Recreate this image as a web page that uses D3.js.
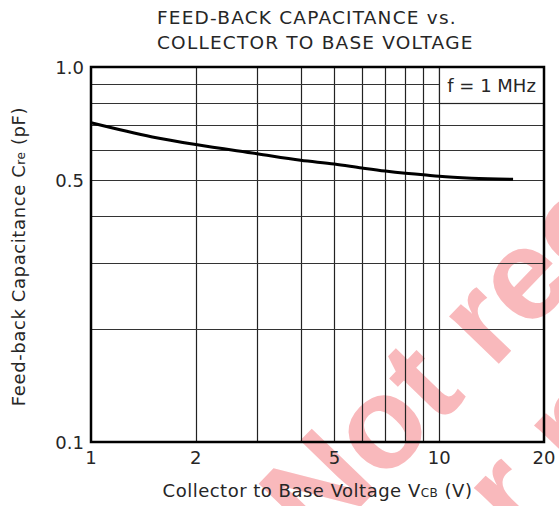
<!DOCTYPE html>
<html>
<head>
<meta charset="utf-8">
<title>Feed-back capacitance vs collector to base voltage</title>
<script src="https://d3js.org/d3.v7.min.js"></script>
<style>
  body { margin: 0; background: #fff; }
  text { font-family: "DejaVu Sans", sans-serif; fill: #262626; }
  .wm { font-family: "Liberation Sans", Arial, sans-serif; font-weight: bold; font-size: 130px; fill: #f9b9bc; }
</style>
</head>
<body>
<script>
// curve
var vcb = [1, 1.5, 2, 3, 4, 5, 6, 7, 8, 9, 10, 12.4, 16.3];
var cre = [0.71, 0.651, 0.621, 0.587, 0.564, 0.551, 0.538, 0.528, 0.521, 0.516, 0.511, 0.505, 0.502];

var xGrid = [2, 3, 4, 5, 6, 7, 8, 9, 10];
var yGrid = [0.2, 0.3, 0.4, 0.5, 0.6, 0.7, 0.8, 0.9];
var xTicks = [1, 2, 5, 10, 20];
var yTicks = [0.1, 0.5, 1.0];

var width = 559, height = 506;
var pl = 91, pr = 544, pt = 67, pb = 442;

var svg = d3.select("body").append("svg")
  .attr("width", width)
  .attr("height", height);

var x = d3.scaleLog().domain([1, 20]).range([pl, pr]);
var y = d3.scaleLog().domain([0.1, 1]).range([pb, pt]);

// watermark behind the grid
svg.append("text").attr("class", "wm")
  .attr("transform", "translate(317,552) rotate(-46)")
  .text("Not recommended");
svg.append("text").attr("class", "wm")
  .attr("transform", "translate(432,630) rotate(-46)")
  .text("for new designs");

// grid
svg.append("g").selectAll("line")
  .data(xGrid).enter().append("line")
  .attr("x1", function(d) { return Math.round(x(d)) + 0.5; })
  .attr("x2", function(d) { return Math.round(x(d)) + 0.5; })
  .attr("y1", pt).attr("y2", pb)
  .attr("stroke", "#222").attr("stroke-width", 1.2);

svg.append("g").selectAll("line")
  .data(yGrid).enter().append("line")
  .attr("x1", pl).attr("x2", pr)
  .attr("y1", function(d) { return Math.round(y(d)) + 0.5; })
  .attr("y2", function(d) { return Math.round(y(d)) + 0.5; })
  .attr("stroke", "#333").attr("stroke-width", 1.2);

// legend box in the top right corner
svg.append("rect")
  .attr("x", Math.round(x(10)) + 0.5).attr("y", pt)
  .attr("width", pr - Math.round(x(10)) - 0.5).attr("height", Math.round(y(0.8)) + 0.5 - pt)
  .attr("fill", "#fff").attr("stroke", "#222").attr("stroke-width", 1.2);
svg.append("text")
  .attr("x", (x(10) + pr) / 2).attr("y", (pt + y(0.8)) / 2 + 7)
  .attr("text-anchor", "middle")
  .style("font-size", "18px")
  .text("f = 1 MHz");

// frame
svg.append("rect")
  .attr("x", pl).attr("y", pt)
  .attr("width", pr - pl).attr("height", pb - pt)
  .attr("fill", "none").attr("stroke", "#000").attr("stroke-width", 2.5);

// curve
var line = d3.line()
  .x(function(d, i) { return x(vcb[i]); })
  .y(function(d) { return y(d); })
  .curve(d3.curveMonotoneX);

svg.append("path")
  .datum(cre)
  .attr("d", line)
  .attr("fill", "none")
  .attr("stroke", "#000")
  .attr("stroke-width", 3);

// tick labels
svg.append("g").selectAll("text")
  .data(xTicks).enter().append("text")
  .attr("x", function(d) { return x(d); })
  .attr("y", pb + 22)
  .attr("text-anchor", "middle")
  .style("font-size", "18px")
  .text(function(d) { return d; });

svg.append("g").selectAll("text")
  .data(yTicks).enter().append("text")
  .attr("x", pl - 7)
  .attr("y", function(d) { return y(d) + 7; })
  .attr("text-anchor", "end")
  .style("font-size", "18px")
  .text(function(d) { return d.toFixed(1); });

// titles, both lines start at the same left edge
var title = svg.append("text")
  .style("font-size", "18.5px")
  .style("letter-spacing", "1.2px");
title.append("tspan").attr("x", 157).attr("y", 24).text("FEED-BACK CAPACITANCE vs.");
title.append("tspan").attr("x", 157).attr("y", 49).text("COLLECTOR TO BASE VOLTAGE");

var xt = svg.append("text")
  .attr("x", (pl + pr) / 2)
  .attr("y", 497)
  .attr("text-anchor", "middle")
  .style("font-size", "18px")
  .style("letter-spacing", "0.5px");
xt.append("tspan").text("Collector to Base Voltage V");
xt.append("tspan").style("font-size", "12px").text("CB");
xt.append("tspan").text(" (V)");

var yt = svg.append("text")
  .attr("transform", "translate(25," + ((pt + pb) / 2 + 2) + ") rotate(-90)")
  .attr("text-anchor", "middle")
  .style("font-size", "18px")
  .style("letter-spacing", "0.6px");
yt.append("tspan").text("Feed-back Capacitance C");
yt.append("tspan").style("font-size", "12px").text("re");
yt.append("tspan").text(" (pF)");
</script>
</body>
</html>
